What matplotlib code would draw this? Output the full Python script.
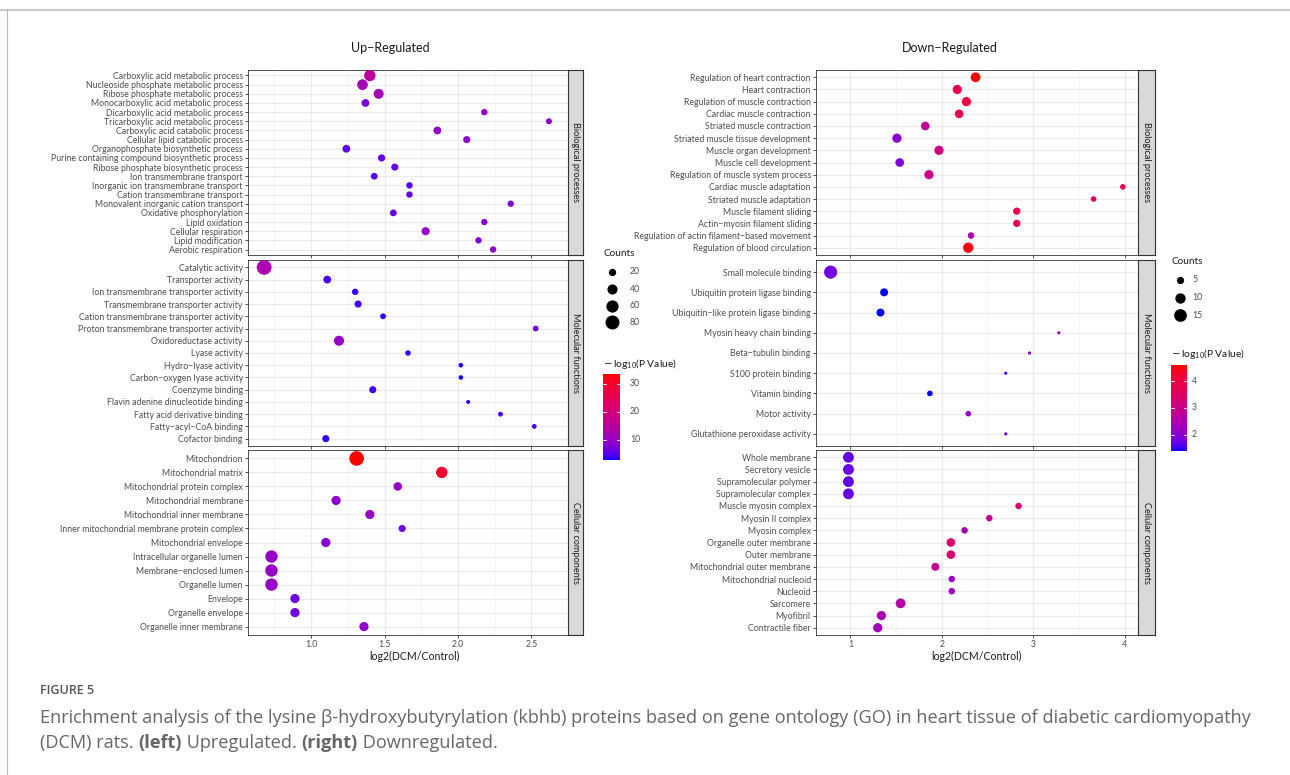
import numpy as np
import matplotlib
matplotlib.use("Agg")
import matplotlib.pyplot as plt
from matplotlib.colors import ListedColormap, Normalize
from matplotlib.lines import Line2D

plt.rcParams["font.family"] = ["Lato", "DejaVu Sans"]

# ---- Up-regulated ----
up_bp_terms = ["Carboxylic acid metabolic process", "Nucleoside phosphate metabolic process",
               "Ribose phosphate metabolic process", "Monocarboxylic acid metabolic process",
               "Dicarboxylic acid metabolic process", "Tricarboxylic acid metabolic process",
               "Carboxylic acid catabolic process", "Cellular lipid catabolic process",
               "Organophosphate biosynthetic process", "Purine containing compound biosynthetic process",
               "Ribose phosphate biosynthetic process", "Ion transmembrane transport",
               "Inorganic ion transmembrane transport", "Cation transmembrane transport",
               "Monovalent inorganic cation transport", "Oxidative phosphorylation",
               "Lipid oxidation", "Cellular respiration", "Lipid modification", "Aerobic respiration"]
up_bp_fc = [1.40, 1.35, 1.46, 1.37, 2.18, 2.62, 1.86, 2.06, 1.24, 1.48,
            1.57, 1.43, 1.67, 1.67, 2.36, 1.56, 2.18, 1.78, 2.14, 2.24]
up_bp_count = [52, 45, 39, 23, 15, 13, 23, 19, 23, 19, 19, 17, 15, 15, 15, 17, 15, 25, 15, 15]
up_bp_logp = [15, 12, 12, 7, 9, 9, 10, 9, 5, 5.5, 5.5, 5, 5, 5, 8, 5.5, 8, 10, 7.5, 9]

up_mf_terms = ["Catalytic activity", "Transporter activity", "Ion transmembrane transporter activity",
               "Transmembrane transporter activity", "Cation transmembrane transporter activity",
               "Proton transmembrane transporter activity", "Oxidoreductase activity", "Lyase activity",
               "Hydro\u2212lyase activity", "Carbon\u2212oxygen lyase activity", "Coenzyme binding",
               "Flavin adenine dinucleotide binding", "Fatty acid derivative binding",
               "Fatty\u2212acyl\u2212CoA binding", "Cofactor binding"]
up_mf_fc = [0.68, 1.11, 1.30, 1.32, 1.49, 2.53, 1.19, 1.66, 2.02, 2.02, 1.42, 2.07, 2.29, 2.52, 1.10]
up_mf_count = [90, 23, 15, 19, 12, 12, 40, 11, 7, 7, 19, 5, 8, 8, 19]
up_mf_logp = [13, 4, 3.5, 4, 3.5, 7, 10, 3.5, 3, 3, 4, 3, 4, 4.5, 3.5]

up_cc_terms = ["Mitochondrion", "Mitochondrial matrix", "Mitochondrial protein complex",
               "Mitochondrial membrane", "Mitochondrial inner membrane",
               "Inner mitochondrial membrane protein complex", "Mitochondrial envelope",
               "Intracellular organelle lumen", "Membrane\u2212enclosed lumen", "Organelle lumen",
               "Envelope", "Organelle envelope", "Organelle inner membrane"]
up_cc_fc = [1.31, 1.89, 1.59, 1.17, 1.40, 1.62, 1.10, 0.73, 0.73, 0.73, 0.89, 0.89, 1.36]
up_cc_count = [88, 52, 28, 33, 33, 19, 33, 62, 62, 62, 33, 33, 33]
up_cc_logp = [33.5, 30, 10, 9, 10, 6, 8, 10, 10, 10, 6, 6, 9]

# ---- Down-regulated ----
dn_bp_terms = ["Regulation of heart contraction", "Heart contraction", "Regulation of muscle contraction",
               "Cardiac muscle contraction", "Striated muscle contraction",
               "Striated muscle tissue development", "Muscle organ development", "Muscle cell development",
               "Regulation of muscle system process", "Cardiac muscle adaptation",
               "Striated muscle adaptation", "Muscle filament sliding", "Actin\u2212myosin filament sliding",
               "Regulation of actin filament\u2212based movement", "Regulation of blood circulation"]
dn_bp_fc = [2.37, 2.17, 2.27, 2.19, 1.82, 1.51, 1.97, 1.54, 1.86, 3.98, 3.66, 2.82, 2.82, 2.32, 2.29]
dn_bp_count = [9, 8, 8, 7, 7, 8, 8, 7, 8, 3, 3, 5, 5, 4, 10]
dn_bp_logp = [4.6, 3.8, 4.0, 3.7, 2.8, 2.0, 3.1, 1.9, 3.0, 3.8, 3.6, 3.8, 3.8, 2.5, 4.5]

dn_mf_terms = ["Small molecule binding", "Ubiquitin protein ligase binding",
               "Ubiquitin\u2212like protein ligase binding", "Myosin heavy chain binding",
               "Beta\u2212tubulin binding", "S100 protein binding", "Vitamin binding", "Motor activity",
               "Glutathione peroxidase activity"]
dn_mf_fc = [0.785, 1.37, 1.33, 3.28, 2.96, 2.70, 1.87, 2.29, 2.70]
dn_mf_count = [16, 6, 6, 1, 1, 1, 3, 3, 1]
dn_mf_logp = [1.8, 1.4, 1.4, 2.2, 2.0, 1.6, 1.4, 2.2, 1.7]

dn_cc_terms = ["Whole membrane", "Secretory vesicle", "Supramolecular polymer", "Supramolecular complex",
               "Muscle myosin complex", "Myosin II complex", "Myosin complex", "Organelle outer membrane",
               "Outer membrane", "Mitochondrial outer membrane", "Mitochondrial nucleoid", "Nucleoid",
               "Sarcomere", "Myofibril", "Contractile fiber"]
dn_cc_fc = [0.98, 0.98, 0.98, 0.98, 2.84, 2.52, 2.25, 2.10, 2.10, 1.93, 2.11, 2.11, 1.55, 1.34, 1.30]
dn_cc_count = [11, 11, 11, 11, 4, 4, 4, 7, 7, 6, 4, 4, 9, 8, 8]
dn_cc_logp = [1.7, 1.7, 1.7, 1.7, 3.3, 2.9, 2.4, 3.4, 3.4, 2.9, 2.2, 2.2, 2.6, 2.4, 2.3]

facet_names = ["Biological processes", "Molecular functions", "Cellular components"]
up_size_breaks = [20, 40, 60, 80]
dn_size_breaks = [5, 10, 15]
up_color_ticks = [10, 20, 30]
dn_color_ticks = [2, 3, 4]

W, H = 1290, 775
DPI = 100
GREY = "#4D4D4D"
LABEL_PT = 6.3


def srgb_to_lab(rgb):
    c = np.asarray(rgb, float)
    c = np.where(c > 0.04045, ((c + 0.055) / 1.055) ** 2.4, c / 12.92)
    m = np.array([[0.4124, 0.3576, 0.1805], [0.2126, 0.7152, 0.0722], [0.0193, 0.1192, 0.9505]])
    xyz = m @ c / np.array([0.95047, 1.0, 1.08883])
    f = np.where(xyz > 0.008856, np.cbrt(xyz), 7.787 * xyz + 16 / 116)
    return np.array([116 * f[1] - 16, 500 * (f[0] - f[1]), 200 * (f[1] - f[2])])


def lab_to_srgb(lab):
    L, a, b = lab
    fy_ = (L + 16) / 116
    f = np.array([fy_ + a / 500, fy_, fy_ - b / 200])
    xyz = np.where(f ** 3 > 0.008856, f ** 3, (f - 16 / 116) / 7.787) * np.array([0.95047, 1.0, 1.08883])
    m = np.array([[3.2406, -1.5372, -0.4986], [-0.9689, 1.8758, 0.0415], [0.0557, -0.2040, 1.0570]])
    c = m @ xyz
    c = np.where(c > 0.0031308, 1.055 * np.clip(c, 0, None) ** (1 / 2.4) - 0.055, 12.92 * c)
    return np.clip(c, 0, 1)


# blue -> red gradient interpolated in Lab, like ggplot's scale_colour_gradient
lab_lo = srgb_to_lab([0, 0, 1])
lab_hi = srgb_to_lab([1, 0, 0])
cmap = ListedColormap([lab_to_srgb(lab_lo + t * (lab_hi - lab_lo)) for t in np.linspace(0, 1, 256)])

fig = plt.figure(figsize=(W / DPI, H / DPI), dpi=DPI)


def fx(px):
    return px / W


def fy(py):
    return 1 - py / H


def px2pt(d):
    return d * 72 / DPI


def draw_panel(x0, x1, strip_w, rows, facets, xlim, xticks, xlabels, minor, size_fn, norm):
    for (top, bot), (terms, fc, cnt, lp), name in zip(rows, facets, facet_names):
        ax = fig.add_axes([fx(x0), fy(bot), fx(x1 - x0), (bot - top) / H])
        n = len(terms)
        ypos = np.arange(n)
        for v in minor:
            ax.axvline(v, color="#F2F2F2", lw=0.5, zorder=0)
        for v in xticks:
            ax.axvline(v, color="#EBEBEB", lw=0.9, zorder=0)
        for y in ypos:
            ax.axhline(y, color="#EBEBEB", lw=0.9, zorder=0)
        sizes = [px2pt(size_fn(c)) ** 2 for c in cnt]
        ax.scatter(fc, ypos, s=sizes, c=lp, cmap=cmap, norm=norm, linewidths=0, zorder=3)
        ax.set_xlim(*xlim)
        ax.set_ylim(n - 1 + 0.6, -0.6)
        ax.set_yticks(ypos)
        ax.set_yticklabels(terms, fontsize=LABEL_PT, color=GREY)
        ax.set_xticks(xticks)
        if name == facet_names[-1]:
            ax.set_xticklabels(xlabels, fontsize=LABEL_PT, color=GREY)
        else:
            ax.set_xticklabels([])
            ax.tick_params(axis="x", length=0)
        ax.tick_params(axis="both", width=0.6, length=2.2, color="#333333", pad=1.5)
        for sp in ax.spines.values():
            sp.set_color("#333333")
            sp.set_linewidth(0.6)
        sax = fig.add_axes([fx(x1), fy(bot), fx(strip_w), (bot - top) / H])
        sax.set_facecolor("#D9D9D9")
        sax.set_xticks([])
        sax.set_yticks([])
        for sp in sax.spines.values():
            sp.set_color("#333333")
            sp.set_linewidth(0.8)
        sax.text(0.5, 0.5, name, rotation=-90, ha="center", va="center", fontsize=6.6,
                 color="#1A1A1A", transform=sax.transAxes)


def draw_legend(x, ytitle, dots_y, breaks, size_fn, label_x, cb_title_y, cb_box, norm, cticks):
    fig.text(fx(x), fy(ytitle), "Counts", fontsize=7.2, color="#1A1A1A", va="center", ha="left")
    for b, yy in zip(breaks, dots_y):
        fig.add_artist(Line2D([fx(x + 9)], [fy(yy)], marker="o", linestyle="none",
                              markersize=px2pt(size_fn(b)), markerfacecolor="black",
                              markeredgewidth=0, transform=fig.transFigure))
        fig.text(fx(label_x), fy(yy), str(b), fontsize=LABEL_PT, color=GREY, va="center", ha="left")
    fig.text(fx(x), fy(cb_title_y), r"$-\,\mathregular{log_{10}}$(P Value)", fontsize=7.4,
             color="#1A1A1A", va="center", ha="left")
    bx0, by0, bx1, by1 = cb_box
    cax = fig.add_axes([fx(bx0), fy(by1), fx(bx1 - bx0), (by1 - by0) / H])
    grad = np.linspace(norm.vmin, norm.vmax, 300).reshape(-1, 1)
    cax.imshow(grad, aspect="auto", cmap=cmap, norm=norm, origin="lower",
               extent=[0, 1, norm.vmin, norm.vmax])
    for t in cticks:
        cax.plot([0, 0.2], [t, t], color="white", lw=0.6)
        cax.plot([0.8, 1], [t, t], color="white", lw=0.6)
        fig.text(fx(label_x), fy(by1) + (t - norm.vmin) / (norm.vmax - norm.vmin) * (by1 - by0) / H,
                 str(t), fontsize=LABEL_PT, color=GREY, va="center", ha="left")
    cax.set_xlim(0, 1)
    cax.set_ylim(norm.vmin, norm.vmax)
    cax.axis("off")


def up_size(c):
    return 0.6 + 1.5 * np.sqrt(c)


def dn_size(c):
    return max(3.0, 3.3 * np.sqrt(c) - 0.1)


rows = [(70, 255), (260, 446), (450, 635)]
up_norm = Normalize(2.7, 33.5)
dn_norm = Normalize(1.4, 4.6)

draw_panel(248, 568, 15, rows,
           [(up_bp_terms, up_bp_fc, up_bp_count, up_bp_logp),
            (up_mf_terms, up_mf_fc, up_mf_count, up_mf_logp),
            (up_cc_terms, up_cc_fc, up_cc_count, up_cc_logp)],
           (0.57, 2.75), [1.0, 1.5, 2.0, 2.5], ["1.0", "1.5", "2.0", "2.5"],
           [0.75, 1.25, 1.75, 2.25], up_size, up_norm)
draw_panel(816, 1138, 17, rows,
           [(dn_bp_terms, dn_bp_fc, dn_bp_count, dn_bp_logp),
            (dn_mf_terms, dn_mf_fc, dn_mf_count, dn_mf_logp),
            (dn_cc_terms, dn_cc_fc, dn_cc_count, dn_cc_logp)],
           (0.625, 4.146), [1, 2, 3, 4], ["1", "2", "3", "4"],
           [1.5, 2.5, 3.5], dn_size, dn_norm)

fig.text(fx(390), fy(48), "Up\u2212Regulated", fontsize=9, color="#1A1A1A", ha="center", va="center")
fig.text(fx(950), fy(48), "Down\u2212Regulated", fontsize=9, color="#1A1A1A", ha="center", va="center")
fig.text(fx(415), fy(656), "log2(DCM/Control)", fontsize=7.6, color="#1A1A1A", ha="center", va="center")
fig.text(fx(977), fy(656), "log2(DCM/Control)", fontsize=7.6, color="#1A1A1A", ha="center", va="center")

draw_legend(603, 253, [272, 289, 306, 322], up_size_breaks, up_size, 630, 364,
            (603, 374, 620, 460), up_norm, up_color_ticks)
draw_legend(1171, 261, [280, 298, 315], dn_size_breaks, dn_size, 1192, 354,
            (1171, 365, 1187, 451), dn_norm, dn_color_ticks)

# frame lines of the figure card
fig.add_artist(Line2D([0, 1], [fy(10), fy(10)], color="#CCCCCC", lw=1.6, transform=fig.transFigure))
fig.add_artist(Line2D([fx(7), fx(7)], [fy(10), 0], color="#BBBBBB", lw=0.8, transform=fig.transFigure))

# caption
CAP = "#666666"
CAP_FONT = ["Open Sans", "DejaVu Sans"]
CAP_PT = 13.1
fig.text(fx(40), fy(691), "FIGURE 5", fontsize=9, color="#555555", ha="left", va="center",
         family=CAP_FONT, fontweight="semibold")
cap_line1 = ("Enrichment analysis of the lysine \u03b2-hydroxybutyrylation (kbhb) proteins based on gene "
             "ontology (GO) in heart tissue of diabetic cardiomyopathy")
fig.text(fx(40), fy(718), cap_line1, fontsize=CAP_PT, color=CAP, ha="left", va="center", family=CAP_FONT)
renderer = fig.canvas.get_renderer()
x = 40
for chunk, weight in [("(DCM) rats. ", "normal"), ("(left)", "bold"), (" Upregulated. ", "normal"),
                      ("(right)", "bold"), (" Downregulated.", "normal")]:
    t = fig.text(fx(x), fy(743), chunk, fontsize=CAP_PT, color=CAP, ha="left", va="center",
                 fontweight=weight, family=CAP_FONT)
    x += t.get_window_extent(renderer).width

fig.savefig("out.png", dpi=DPI)
